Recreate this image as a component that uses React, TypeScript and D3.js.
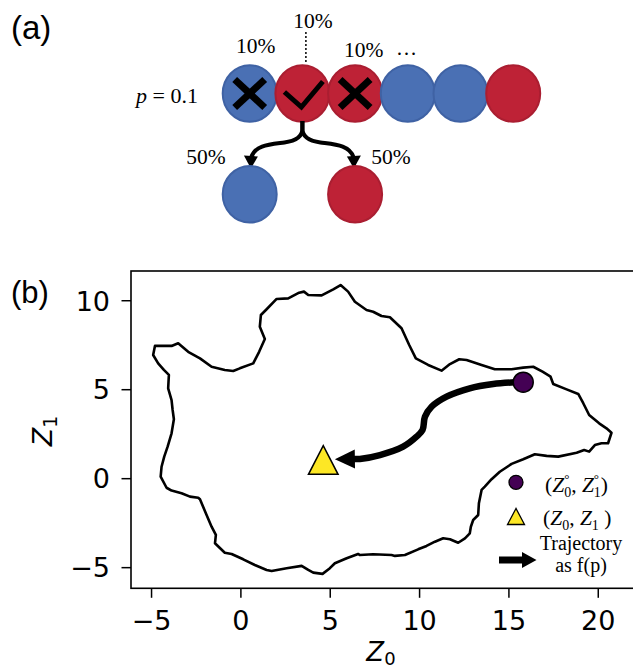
import React from "react";
import * as d3 from "d3";

// ---------- Panel (a) data ----------
const chainColors = ["blue", "red", "red", "blue", "blue", "red"];
const chainMarks = ["cross", "check", "cross", "none", "none", "none"];
const chainProbLabels = ["10%", "10%", "10%"];
const pLabel = "0.1";
const childColors = ["blue", "red"];
const splitLabels = ["50%", "50%"];

// ---------- Panel (b) data ----------
const boundaryX = [
  -4.81, -3.88, -3.51, -2.95, -2.29, -1.64, -0.9, -0.43, -0.06, 0.69, 1.02, 1.34, 1.06, 1.12, 1.44, 2.0,
  2.65, 3.26, 3.53, 3.77, 4.52, 5.17, 5.58, 6.0, 6.38, 7.03, 7.4, 7.87, 8.34, 8.99, 9.42, 9.79, 10.48,
  11.23, 11.7, 12.22, 12.63, 13.47, 14.21, 15.15, 15.8, 16.36, 16.88, 17.33, 17.48, 18.23, 18.88, 19.16,
  19.49, 20.05, 20.46, 20.74, 20.55, 20.18, 19.81, 19.49, 19.21, 18.79, 17.76, 17.11, 16.45, 15.8, 15.15,
  14.49, 14.03, 13.65, 13.47, 13.32, 13.28, 13.0, 12.87, 12.81, 12.54, 12.16, 11.7, 11.32, 10.86, 10.39,
  9.92, 9.18, 8.62, 8.43, 7.4, 6.66, 6.56, 5.92, 5.26, 4.98, 4.57, 4.05, 3.77, 3.4, 2.56, 1.72, 1.44, 0.78,
  0.13, -0.52, -0.9, -1.45, -1.4, -1.64, -1.92, -2.29, -2.39, -2.85, -3.32, -3.88, -4.16, -4.49, -4.44,
  -4.29, -4.1, -3.88, -3.75, -3.82, -3.88, -4.07, -4.03, -4.31, -4.63, -4.91,
];
const boundaryY = [
  7.46, 7.46, 7.61, 7.13, 6.76, 6.29, 6.11, 6.05, 6.2, 6.48, 7.13, 7.85, 8.54, 9.2, 9.52, 10.1,
  10.13, 10.45, 10.51, 10.32, 10.3, 10.64, 10.88, 10.51, 9.94, 9.48, 9.38, 9.14, 9.07, 8.45, 7.51, 6.76, 6.39,
  6.07, 6.44, 6.71, 6.67, 6.39, 6.15, 6.15, 6.24, 6.29, 6.01, 5.73, 5.32, 5.02, 4.76, 4.24,
  3.58, 3.11, 2.83, 2.58, 1.99, 1.99, 1.89, 1.52, 1.61, 1.46, 1.24, 1.28, 1.37, 1.09, 0.83,
  0.39, -0.03, -0.45, -0.63, -1.38, -2.04, -2.32, -2.7, -3.07, -3.35, -3.6, -3.4, -3.35, -3.54, -3.78,
  -3.97, -4.29, -4.34, -4.29, -4.25, -4.29, -4.23, -4.47, -4.75, -5.03, -5.35, -5.28, -5.13, -4.9, -5.03, -5.19, -5.13, -4.85,
  -4.53, -4.23, -4.16, -3.63, -3.16, -2.7, -2.04, -1.16, -1.07, -1.01, -0.82, -0.67, -0.51, 0.11, 0.67,
  1.24, 1.8, 2.55, 3.34, 3.86, 4.42, 5.08, 5.83, 6.11, 6.48, 6.95,
];
const trajectoryX = [15.33, 14.12, 12.81, 11.51, 10.67, 10.3, 10.17, 9.83, 9.08, 7.78, 6.66, 6.2, 5.26];
const trajectoryY = [5.42, 5.32, 5.08, 4.61, 4.04, 3.48, 2.74, 2.36, 1.8, 1.33, 1.11, 1.12, 1.09];
const startPoint = [15.8, 5.42];
const endPoint = [4.61, 1.05];
const xTicks = [-5, 0, 5, 10, 15, 20];
const yTicks = [-5, 0, 5, 10];
const xDomain = [-6.15, 22.0];
const yDomain = [-6.16, 11.67];

const COLORS: Record<string, { fill: string; stroke: string }> = {
  blue: { fill: "#4a70b4", stroke: "#3f62a4" },
  red: { fill: "#be2236", stroke: "#aa1e31" },
};
const PURPLE = "#440154";
const YELLOW = "#fde725";
const SERIF = "'Liberation Serif', 'Times New Roman', serif";
const SANS = "'DejaVu Sans', sans-serif";

function fmt(v: number) {
  return v < 0 ? "\u2212" + Math.abs(v) : String(v);
}

function PanelA() {
  const cx = d3.scaleLinear().domain([0, 1]).range([249.7, 302.4]);
  const cy = 93.5;
  const rx = 27;
  const ry = 28.3;
  const parent = cx(1);
  const childX = [cx(0), cx(2)];
  const childY = 194.3;
  const labelPos = [
    { x: cx(0) + 6, y: 53 },
    { x: cx(1) + 10.5, y: 27.5 },
    { x: cx(2) + 8.5, y: 57 },
  ];
  const leftArrow = `M${parent},121 L${parent},129 C${parent},138 ${parent - 8},141 ${parent - 18},142.5 C${parent - 33},144.5 ${parent - 47},145 ${parent - 51},157`;
  const leftHead = `M${parent - 51.5},168.5 L${parent - 58.5},155.5 L${parent - 44.5},156.5 Z`;
  return (
    <g>
      <text x={11} y={39} fontFamily="'Liberation Sans', Arial, sans-serif" fontSize={33}>
        (a)
      </text>
      <line x1={parent + 3.5} x2={parent + 3.5} y1={32} y2={62} stroke="#000" strokeWidth={1.5} strokeDasharray="2,2" />
      {chainColors.map((c, i) => (
        <ellipse key={i} cx={cx(i)} cy={cy} rx={rx} ry={ry} fill={COLORS[c].fill} stroke={COLORS[c].stroke} strokeWidth={2} />
      ))}
      {chainMarks.map((m, i) => {
        const x = cx(i);
        if (m === "cross")
          return (
            <g key={i} stroke="#000" strokeWidth={7}>
              <line x1={x - 15} y1={cy - 14} x2={x + 15} y2={cy + 14} />
              <line x1={x - 15} y1={cy + 14} x2={x + 15} y2={cy - 14} />
            </g>
          );
        if (m === "check")
          return (
            <path
              key={i}
              d={`M${x - 18},${cy - 1.5} L${x - 1},${cy + 13.5} L${x + 20.5},${cy - 12}`}
              fill="none"
              stroke="#000"
              strokeWidth={5}
            />
          );
        return null;
      })}
      {chainProbLabels.map((t, i) => (
        <text key={i} x={labelPos[i].x} y={labelPos[i].y} textAnchor="middle" fontFamily={SERIF} fontSize={21.5}>
          {t}
        </text>
      ))}
      <text x={396} y={55} fontFamily={SERIF} fontSize={21}>
        {"\u2026"}
      </text>
      <text x={198} y={103} textAnchor="end" fontFamily={SERIF} fontSize={22}>
        <tspan fontStyle="italic">p</tspan>
        <tspan>{" = " + pLabel}</tspan>
      </text>
      <g>
        <path d={leftArrow} fill="none" stroke="#000" strokeWidth={4} />
        <path d={leftHead} fill="#000" />
      </g>
      <g transform={`translate(${2 * parent},0) scale(-1,1)`}>
        <path d={leftArrow} fill="none" stroke="#000" strokeWidth={4} />
        <path d={leftHead} fill="#000" />
      </g>
      {childColors.map((c, i) => (
        <ellipse key={i} cx={childX[i]} cy={childY} rx={rx} ry={ry} fill={COLORS[c].fill} stroke={COLORS[c].stroke} strokeWidth={2} />
      ))}
      {splitLabels.map((t, i) => (
        <text key={i} x={i === 0 ? 206 : 391} y={163.5} textAnchor="middle" fontFamily={SERIF} fontSize={21.5}>
          {t}
        </text>
      ))}
    </g>
  );
}

function PanelB() {
  const left = 131;
  const right = 634;
  const top = 271;
  const bottom = 588.3;
  const x = d3.scaleLinear().domain(xDomain).range([left, right]);
  const y = d3.scaleLinear().domain(yDomain).range([bottom, top]);

  const boundary = boundaryX.map((v, i) => [v, boundaryY[i]] as [number, number]);
  const boundaryPath = d3
    .line<[number, number]>()
    .x((d) => x(d[0]))
    .y((d) => y(d[1]))
    .curve(d3.curveLinearClosed)(boundary);

  const traj = trajectoryX.map((v, i) => [x(v), y(trajectoryY[i])] as [number, number]);
  const tip = traj[traj.length - 1];
  const prev = traj[traj.length - 3];
  const dx = tip[0] - prev[0];
  const dy = tip[1] - prev[1];
  const len = Math.hypot(dx, dy);
  const ux = dx / len;
  const uy = dy / len;
  const headLen = 20;
  const headHalf = 9.5;
  const bx = tip[0] - ux * headLen;
  const by = tip[1] - uy * headLen;
  const head = `M${tip[0]},${tip[1]} L${bx - uy * headHalf},${by + ux * headHalf} L${bx + uy * headHalf},${by - ux * headHalf} Z`;
  const shaftPts = traj.slice(0, traj.length - 1);
  shaftPts[shaftPts.length - 1] = [bx + ux * 2, by + uy * 2];
  const shaftPath = d3.line().curve(d3.curveCatmullRom.alpha(0.5))(shaftPts);

  const sx = x(startPoint[0]);
  const sy = y(startPoint[1]);
  const ex = x(endPoint[0]);
  const ey = y(endPoint[1]);

  return (
    <g>
      <text x={11} y={303} fontFamily="'Liberation Sans', Arial, sans-serif" fontSize={31}>
        (b)
      </text>
      <path d={boundaryPath || ""} fill="none" stroke="#000" strokeWidth={2.6} strokeLinejoin="round" />
      <path d={shaftPath || ""} fill="none" stroke="#000" strokeWidth={6.5} strokeLinecap="butt" />
      <path d={head} fill="#000" />
      <circle cx={sx} cy={sy} r={10} fill={PURPLE} stroke="#000" strokeWidth={1.5} />
      <path d={`M${ex},${ey - 14.3} L${ex - 14.8},${ey + 14.3} L${ex + 14.8},${ey + 14.3} Z`} fill={YELLOW} stroke="#000" strokeWidth={1.5} />

      {/* legend */}
      <circle cx={516} cy={482.3} r={7} fill={PURPLE} stroke="#000" strokeWidth={1.3} />
      <text x={545} y={492} fontFamily={SERIF} fontSize={21.5}>
        <tspan>(</tspan>
        <tspan fontStyle="italic">Z</tspan>
        <tspan fontSize={13} dy={-9}>{"\u00B0"}</tspan>
        <tspan fontSize={14} dx={-5.2} dy={14}>0</tspan>
        <tspan dy={-5}>{", "}</tspan>
        <tspan fontStyle="italic">Z</tspan>
        <tspan fontSize={13} dy={-9}>{"\u00B0"}</tspan>
        <tspan fontSize={14} dx={-5.2} dy={14}>1</tspan>
        <tspan dy={-5}>)</tspan>
      </text>
      <path d={`M516,508.5 L507.5,524.5 L524.5,524.5 Z`} fill={YELLOW} stroke="#000" strokeWidth={1.3} />
      <text x={543} y={524.5} fontFamily={SERIF} fontSize={21.5}>
        <tspan>(</tspan>
        <tspan fontStyle="italic">Z</tspan>
        <tspan fontSize={14} dy={5}>0</tspan>
        <tspan dy={-5}>{", "}</tspan>
        <tspan fontStyle="italic">Z</tspan>
        <tspan fontSize={14} dy={5}>1</tspan>
        <tspan dy={-5}>{" )"}</tspan>
      </text>
      <line x1={499} x2={524} y1={560} y2={560} stroke="#000" strokeWidth={7} />
      <path d="M522,552 L536.5,560 L522,568 Z" fill="#000" />
      <text x={581} y={550} textAnchor="middle" fontFamily={SERIF} fontSize={20}>
        Trajectory
      </text>
      <text x={581} y={571.5} textAnchor="middle" fontFamily={SERIF} fontSize={20}>
        as f(p)
      </text>

      {/* frame */}
      <rect x={left} y={top} width={right - left} height={bottom - top} fill="none" stroke="#000" strokeWidth={1.6} />
      {xTicks.map((t) => (
        <g key={"x" + t}>
          <line x1={x(t)} x2={x(t)} y1={bottom} y2={bottom + 9.5} stroke="#000" strokeWidth={1.5} />
          <text x={x(t)} y={630} textAnchor="middle" fontFamily={SANS} fontSize={27}>
            {fmt(t)}
          </text>
        </g>
      ))}
      {yTicks.map((t) => (
        <g key={"y" + t}>
          <line x1={left - 9.5} x2={left} y1={y(t)} y2={y(t)} stroke="#000" strokeWidth={1.5} />
          <text x={110} y={y(t) + 9.8} textAnchor="end" fontFamily={SANS} fontSize={27}>
            {fmt(t)}
          </text>
        </g>
      ))}
      <text x={381} y={661} textAnchor="middle" fontFamily={SANS} fontSize={26}>
        <tspan fontStyle="italic">Z</tspan>
        <tspan fontSize={18} dy={4}>0</tspan>
      </text>
      <text transform="translate(52,431) rotate(-90)" textAnchor="middle" fontFamily={SANS} fontSize={27}>
        <tspan fontStyle="italic">Z</tspan>
        <tspan fontSize={19} dy={5}>1</tspan>
      </text>
    </g>
  );
}

export default function App() {
  return (
    <svg width={633} height={668} style={{ position: "absolute", left: 0, top: 0, background: "#fff" }}>
      <rect x={0} y={0} width={633} height={668} fill="#fff" />
      <PanelA />
      <PanelB />
    </svg>
  );
}
